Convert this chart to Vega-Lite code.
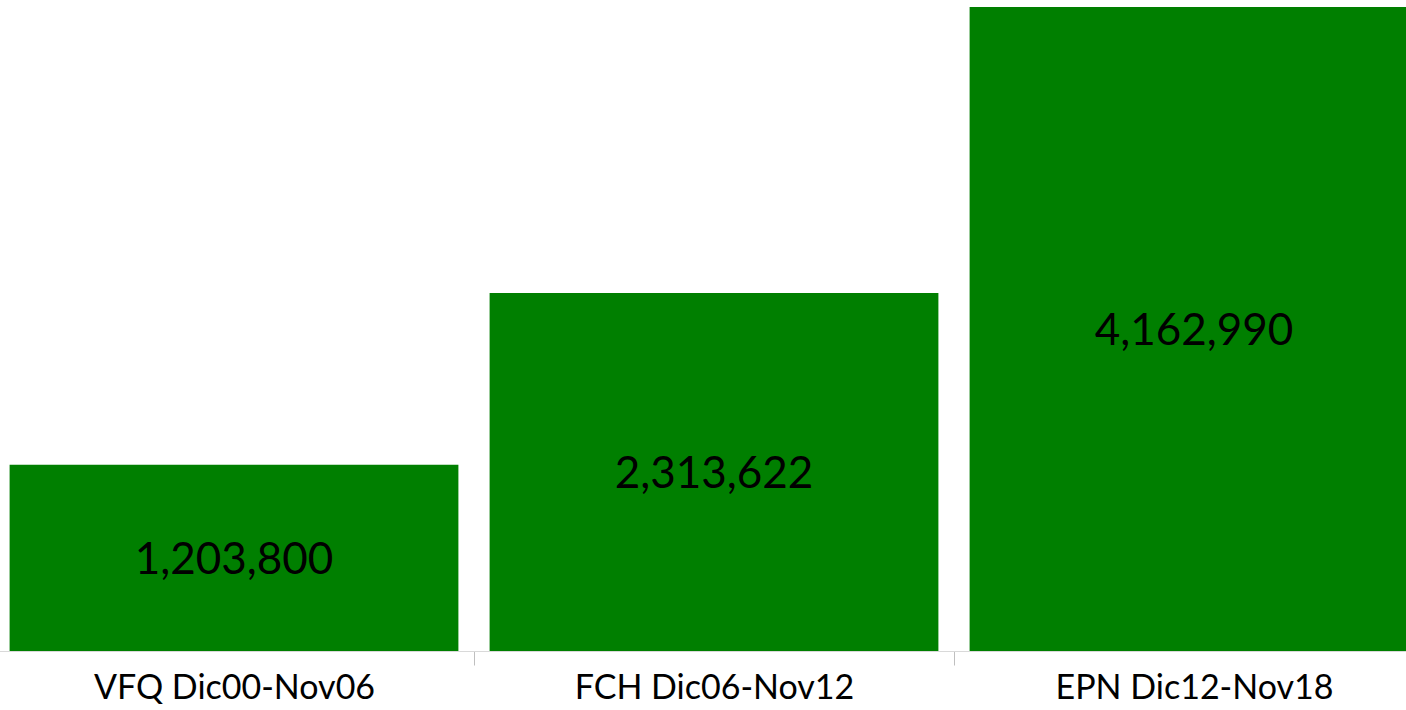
{
  "$schema": "https://vega.github.io/schema/vega-lite/v6.json",
  "width": 1406,
  "height": 651,
  "autosize": {"type": "none"},
  "padding": {"left": 0, "top": 0, "right": 0, "bottom": 59},
  "background": "white",
  "config": {"view": {"stroke": null}, "font": "Lato"},
  "data": {"values": [
    {"periodo": "VFQ Dic00-Nov06", "valor": 1203800},
    {"periodo": "FCH Dic06-Nov12", "valor": 2313622},
    {"periodo": "EPN Dic12-Nov18", "valor": 4162990}
  ]},
  "transform": [{"calculate": "datum.valor / 2", "as": "mitad"}],
  "encoding": {
    "x": {
      "field": "periodo", "type": "nominal", "sort": null,
      "scale": {"range": [-6, 1434], "paddingInner": 0.065, "paddingOuter": 0.0325},
      "axis": {
        "title": null, "labelAngle": 0, "labelFont": "Lato", "labelFontSize": 34,
        "labelColor": "#000000", "labelPadding": 6, "labelLimit": 0,
        "tickBand": "center", "tickOffset": 240, "labelOffset": -240,
        "tickSize": 14, "tickColor": "#bfbfbf", "domainColor": "#d9d9d9",
        "labelFontWeight": "normal"
      }
    }
  },
  "layer": [
    {
      "mark": {"type": "bar", "color": "#007f00"},
      "encoding": {
        "y": {"field": "valor", "type": "quantitative", "scale": {"domain": [0, 4208000], "nice": false}, "axis": null}
      }
    },
    {
      "mark": {"type": "text", "fontSize": 44, "color": "#000000", "baseline": "middle", "font": "Lato", "dy": 3},
      "encoding": {
        "y": {"field": "mitad", "type": "quantitative"},
        "text": {"field": "valor", "type": "quantitative", "format": ",d"}
      }
    }
  ]
}
